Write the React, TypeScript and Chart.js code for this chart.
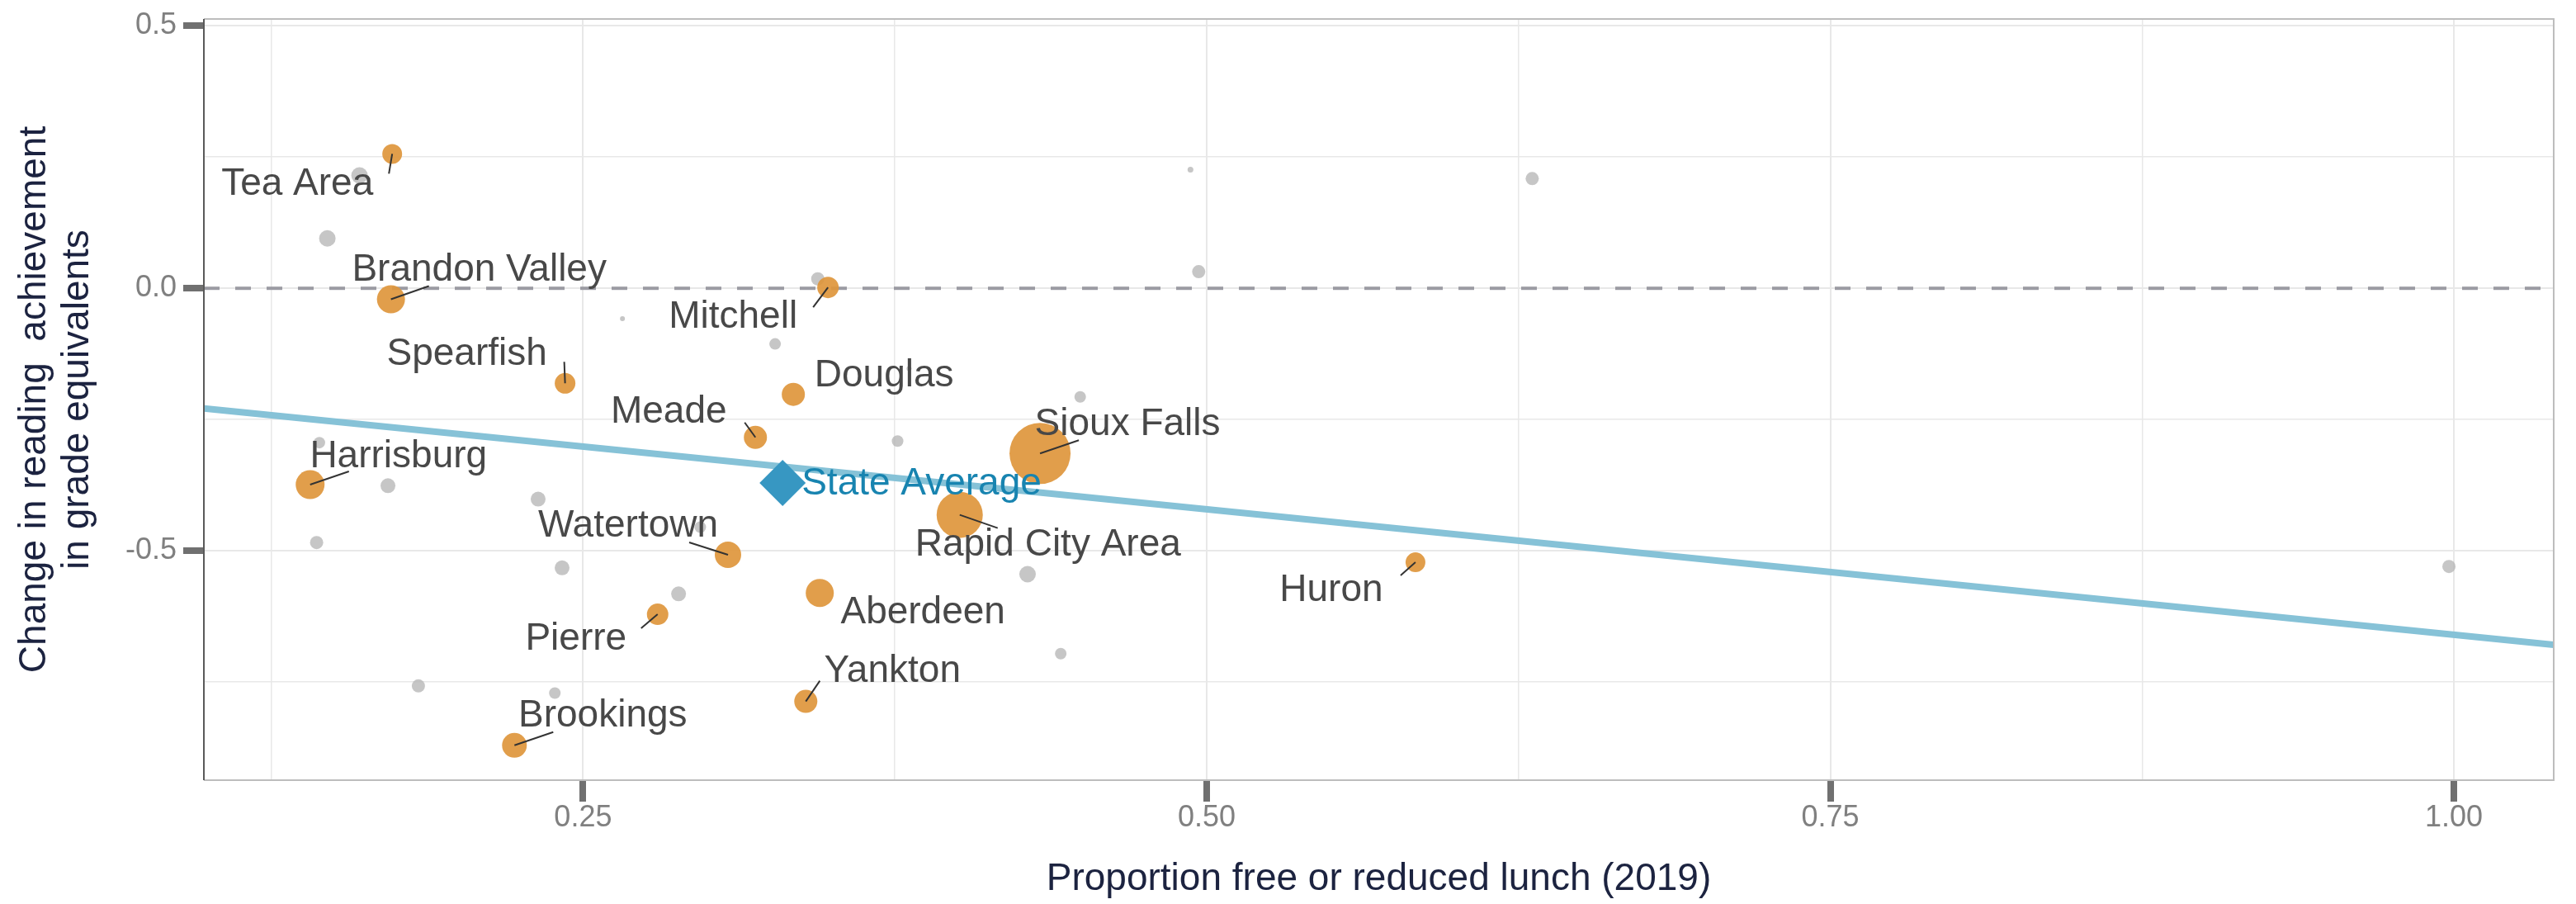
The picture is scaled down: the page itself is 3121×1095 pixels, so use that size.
import { useEffect, useRef } from 'react';
import { Chart, registerables } from 'chart.js';

Chart.register(...registerables);

// ---- Data ----
const districtNames = [
  'Tea Area', 'Brandon Valley', 'Spearfish', 'Mitchell', 'Douglas', 'Meade', 'Sioux Falls',
  'Harrisburg', 'Rapid City Area', 'Watertown', 'Aberdeen', 'Huron', 'Pierre', 'Yankton', 'Brookings',
];
const districtFrl = [0.1735, 0.173, 0.2428, 0.3482, 0.3343, 0.3191, 0.4332, 0.1406, 0.401, 0.3081, 0.3449, 0.5837, 0.2799, 0.3393, 0.2225];
const districtChange = [0.256, -0.021, -0.181, 0.0016, -0.202, -0.284, -0.3146, -0.374, -0.4316, -0.5077, -0.5805, -0.522, -0.621, -0.787, -0.8706];
const districtSize = [12, 17, 12.5, 13, 14, 14, 37, 17.5, 28, 16, 17, 12, 13, 14, 15];

const otherFrl = [0.1604, 0.1475, 0.2658, 0.1443, 0.3441, 0.327, 0.3807, 0.4493, 0.3761, 0.4935, 0.4968, 0.6305, 0.1718, 0.232, 0.1432, 0.2416, 0.297, 0.2883, 0.4282, 0.4415, 0.184, 0.2387, 0.998];
const otherChange = [0.215, 0.095, -0.058, -0.294, 0.018, -0.106, -0.153, -0.207, -0.291, 0.226, 0.0316, 0.209, -0.376, -0.4017, -0.4844, -0.5326, -0.455, -0.582, -0.5447, -0.696, -0.7575, -0.771, -0.53];
const otherSize = [10, 10, 3, 7, 8, 7, 3, 7, 7, 3.5, 8, 8, 9, 9, 8, 9, 7, 9, 10, 7, 8, 7, 8];

const stateAvgFrl = [0.33];
const stateAvgChange = [-0.371];
const stateAvgLabel = 'State Average';

const fitLineFrl = [0.098, 1.04];
const fitLineChange = [-0.229, -0.679];

const xTickValues = [0.125, 0.25, 0.375, 0.5, 0.625, 0.75, 0.875, 1.0];
const xTickLabels = ['', '0.25', '', '0.50', '', '0.75', '', '1.00'];
const yTickValues = [-0.75, -0.5, -0.25, 0, 0.25, 0.5];
const yTickLabels = ['', '-0.5', '', '0.0', '', '0.5'];

const xTitle = 'Proportion free or reduced lunch (2019)';
const yTitleLines = ['Change in reading  achievement', 'in grade equivalents'];

// ---- Layout (label placement offsets in px relative to point: label dx, dy, segment start dx, dy) ----
const labelLayout: (number | null)[][] = [
  [-115, 37, -4, 24],
  [107, -35, 46, -16],
  [-119, -35, -1, -26],
  [-115, 36, -18, 24],
  [110, -22, null, null],
  [-105, -30, -13, -18],
  [106, -35, 47, -16],
  [107, -33.5, 47, -16],
  [107, 36.5, 46, 16],
  [-121, -35, -47, -15],
  [125, 24, null, null],
  [-102, 34, -18, 16],
  [-99, 30, -20, 17],
  [105, -36, 17, -25],
  [107, -35, 47, -16],
];

const FONT = '"Liberation Sans", Arial, Helvetica, sans-serif';
const W = 3121;
const H = 1095;

const overlayPlugin = {
  id: 'overlay',
  beforeDatasetsDraw(chart: any) {
    const { ctx, chartArea } = chart;
    const y0 = chart.scales.y.getPixelForValue(0);
    ctx.save();
    ctx.beginPath();
    ctx.rect(chartArea.left, chartArea.top, chartArea.right - chartArea.left, chartArea.bottom - chartArea.top);
    ctx.clip();
    ctx.strokeStyle = '#9b9ba3';
    ctx.lineWidth = 4;
    ctx.setLineDash([19, 19]);
    ctx.beginPath();
    ctx.moveTo(chartArea.left, y0);
    ctx.lineTo(chartArea.right, y0);
    ctx.stroke();
    ctx.restore();
  },
  afterDatasetsDraw(chart: any) {
    const { ctx } = chart;
    const xs = chart.scales.x;
    const ys = chart.scales.y;
    ctx.save();
    ctx.strokeStyle = '#333333';
    ctx.lineWidth = 2;
    districtNames.forEach((_, i) => {
      const L = labelLayout[i];
      if (L[2] === null || L[3] === null) return;
      const px = xs.getPixelForValue(districtFrl[i]);
      const py = ys.getPixelForValue(districtChange[i]);
      ctx.beginPath();
      ctx.moveTo(px + (L[2] as number), py + (L[3] as number));
      ctx.lineTo(px, py);
      ctx.stroke();
    });
    ctx.font = `46px ${FONT}`;
    ctx.fillStyle = '#484848';
    ctx.textAlign = 'center';
    ctx.textBaseline = 'middle';
    districtNames.forEach((name, i) => {
      const L = labelLayout[i];
      const px = xs.getPixelForValue(districtFrl[i]);
      const py = ys.getPixelForValue(districtChange[i]);
      ctx.fillText(name, px + (L[0] as number), py + (L[1] as number));
    });
    ctx.fillStyle = '#1884b0';
    ctx.textAlign = 'left';
    const sx = xs.getPixelForValue(stateAvgFrl[0]);
    const sy = ys.getPixelForValue(stateAvgChange[0]);
    ctx.fillText(stateAvgLabel, sx + 23, sy + 1);
    ctx.restore();
  },
  afterDraw(chart: any) {
    const { ctx, chartArea } = chart;
    const { left, right, top, bottom } = chartArea;
    ctx.save();
    ctx.lineWidth = 2;
    ctx.strokeStyle = '#bdbdbd';
    ctx.beginPath();
    ctx.moveTo(left, top);
    ctx.lineTo(right, top);
    ctx.lineTo(right, bottom);
    ctx.lineTo(left, bottom);
    ctx.stroke();
    ctx.strokeStyle = '#5a5a5a';
    ctx.beginPath();
    ctx.moveTo(left, top);
    ctx.lineTo(left, bottom);
    ctx.stroke();
    ctx.fillStyle = '#1c2340';
    ctx.font = `46px ${FONT}`;
    ctx.textAlign = 'center';
    ctx.textBaseline = 'middle';
    ctx.fillText(xTitle, (left + right) / 2, 1065);
    const cy = (top + bottom) / 2;
    const xs = [42, 94];
    yTitleLines.forEach((line, i) => {
      ctx.save();
      ctx.translate(xs[i], cy);
      ctx.rotate(-Math.PI / 2);
      ctx.fillText(line, 0, 0);
      ctx.restore();
    });
    ctx.restore();
  },
};

export default function App() {
  const canvasRef = useRef<HTMLCanvasElement | null>(null);

  useEffect(() => {
    const canvas = canvasRef.current;
    if (!canvas) return;
    const tickFont = { family: FONT, size: 36, lineHeight: 1 };
    const chart = new Chart(canvas, {
      type: 'scatter',
      data: {
        datasets: [
          {
            type: 'scatter',
            label: 'Other districts',
            data: otherFrl.map((x, i) => ({ x, y: otherChange[i] })),
            pointRadius: otherSize,
            backgroundColor: 'rgba(182,182,182,0.78)',
            borderWidth: 0,
            order: 5,
          } as any,
          {
            type: 'line',
            label: 'Fit',
            data: fitLineFrl.map((x, i) => ({ x, y: fitLineChange[i] })),
            borderColor: '#86c2d7',
            borderWidth: 8,
            pointRadius: 0,
            fill: false,
            order: 4,
          } as any,
          {
            type: 'scatter',
            label: 'Largest districts',
            data: districtFrl.map((x, i) => ({ x, y: districtChange[i] })),
            pointRadius: districtSize,
            backgroundColor: 'rgba(222,150,60,0.92)',
            borderWidth: 0,
            order: 3,
          } as any,
          {
            type: 'scatter',
            label: stateAvgLabel,
            data: stateAvgFrl.map((x, i) => ({ x, y: stateAvgChange[i] })),
            pointStyle: 'rectRot',
            pointRadius: 28,
            backgroundColor: '#3797c2',
            borderWidth: 0,
            order: 2,
          } as any,
        ],
      },
      options: {
        animation: false,
        responsive: false,
        devicePixelRatio: 1,
        events: [],
        layout: { autoPadding: false, padding: { top: 23, right: 27, left: 0, bottom: 0 } },
        plugins: { legend: { display: false }, tooltip: { enabled: false } },
        scales: {
          x: {
            type: 'linear',
            min: 0.098,
            max: 1.04,
            afterBuildTicks: (s: any) => {
              s.ticks = xTickValues.map((v) => ({ value: v }));
            },
            afterFit: (s: any) => {
              s.height = 150;
              s.paddingLeft = 0;
              s.paddingRight = 0;
            },
            border: { display: false },
            grid: {
              color: '#e8e8e8',
              lineWidth: (c: any) => (xTickLabels[c.index] ? 2 : 1.5),
              tickLength: 26,
              tickWidth: 8,
              tickColor: (c: any) => (xTickLabels[c.index] ? '#707070' : 'rgba(0,0,0,0)'),
            },
            ticks: {
              callback: (_v: any, i: number) => xTickLabels[i],
              font: tickFont,
              color: '#808080',
              padding: 2,
              autoSkip: false,
              maxRotation: 0,
              minRotation: 0,
            },
          },
          y: {
            type: 'linear',
            min: -0.937,
            max: 0.513,
            afterBuildTicks: (s: any) => {
              s.ticks = yTickValues.map((v) => ({ value: v }));
            },
            afterFit: (s: any) => {
              s.width = 247;
              s.paddingTop = 0;
              s.paddingBottom = 0;
            },
            border: { display: false },
            grid: {
              color: '#e8e8e8',
              lineWidth: (c: any) => (yTickLabels[c.index] ? 2 : 1.5),
              tickLength: 25,
              tickWidth: 8,
              tickColor: (c: any) => (yTickLabels[c.index] ? '#707070' : 'rgba(0,0,0,0)'),
            },
            ticks: {
              callback: (_v: any, i: number) => yTickLabels[i],
              font: tickFont,
              color: '#808080',
              padding: 8,
              autoSkip: false,
            },
          },
        },
      } as any,
      plugins: [overlayPlugin],
    });
    return () => chart.destroy();
  }, []);

  return (
    <div style={{ position: 'fixed', left: 0, top: 0, width: W, height: H, background: '#ffffff' }}>
      <canvas ref={canvasRef} width={W} height={H} style={{ width: W, height: H, display: 'block' }} />
    </div>
  );
}
